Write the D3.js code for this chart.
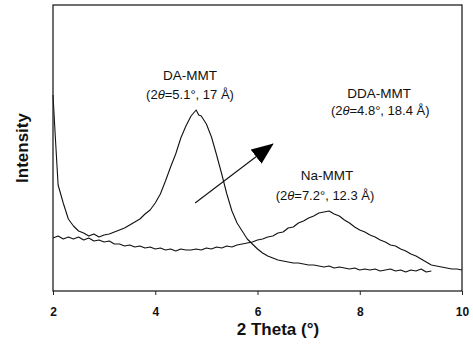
<!DOCTYPE html>
<html lang="en">
<head>
  <meta charset="utf-8" />
  <title>XRD patterns</title>
  <style>
    body { margin: 0; background: #fff; }
    svg text { fill: #111; }
    .tick line { stroke: #222; }
    path.domain { display: none; }
  </style>
</head>
<body>
  <div id="graphic"></div>
  <script src="https://cdn.jsdelivr.net/npm/d3@7"></script>
  <script>
    // 2 theta (deg) and intensity (a.u.)
    var thetaA = [2.0, 2.05, 2.1, 2.2, 2.3, 2.4, 2.5, 2.6, 2.7, 2.8, 2.9, 3.0, 3.1, 3.2, 3.3, 3.4, 3.5, 3.6, 3.7, 3.8, 3.9,
      4.0, 4.1, 4.2, 4.3, 4.4, 4.5, 4.6, 4.7, 4.8, 4.85, 4.9, 5.0, 5.1, 5.2, 5.3, 5.4, 5.5, 5.6, 5.7, 5.8, 5.9,
      6.0, 6.1, 6.2, 6.3, 6.4, 6.5, 6.6, 6.7, 6.8, 6.9, 7.0, 7.1, 7.2, 7.3, 7.4, 7.5, 7.6, 7.7, 7.8, 7.9,
      8.0, 8.1, 8.2, 8.3, 8.4, 8.5, 8.6, 8.7, 8.8, 8.9, 9.0, 9.1, 9.2, 9.3, 9.4];
    var intensityA = [196, 150, 106, 88, 72, 65, 60, 58, 55, 57, 54, 56, 57, 59, 61, 63, 66, 69, 72, 77, 81,
      88, 97, 110, 124, 137, 153, 165, 175, 181, 176, 175, 167, 154, 136, 117, 97, 80, 68, 60, 52, 47,
      42, 38, 35, 33, 31, 30, 29, 28, 28, 27, 26, 26, 25, 24, 25, 23, 24, 23, 22, 23,
      21, 22, 21, 22, 20, 21, 22, 20, 21, 19, 21, 20, 22, 19, 20];

    var thetaB = [2.0, 2.1, 2.2, 2.3, 2.4, 2.5, 2.6, 2.7, 2.8, 2.9, 3.0, 3.1, 3.2, 3.3, 3.4, 3.5, 3.6, 3.7, 3.8, 3.9,
      4.0, 4.1, 4.2, 4.3, 4.4, 4.5, 4.6, 4.7, 4.8, 4.9, 5.0, 5.1, 5.2, 5.3, 5.4, 5.5, 5.6, 5.7, 5.8, 5.9,
      6.0, 6.1, 6.2, 6.3, 6.4, 6.5, 6.6, 6.7, 6.8, 6.9, 7.0, 7.1, 7.2, 7.3, 7.4, 7.5, 7.6, 7.7, 7.8, 7.9,
      8.0, 8.1, 8.2, 8.3, 8.4, 8.5, 8.6, 8.7, 8.8, 8.9, 9.0, 9.1, 9.2, 9.3, 9.4, 9.5, 9.6, 9.7, 9.8, 9.9, 10.0];
    var intensityB = [53, 55, 52, 54, 52, 54, 51, 53, 50, 51, 49, 50, 47, 47, 45, 46, 44, 45, 43, 44,
      42, 43, 41, 42, 40, 42, 41, 41, 42, 41, 43, 42, 44, 43, 45, 44, 46, 47, 48, 49,
      51, 52, 54, 55, 58, 59, 63, 64, 68, 70, 73, 75, 78, 79, 80, 77, 75, 71, 68, 64,
      61, 59, 56, 54, 51, 49, 46, 45, 42, 40, 37, 35, 32, 29, 26, 25, 24, 23, 22, 22, 21];

    var xTicks = [2, 4, 6, 8, 10];

    // annotations: [2theta, intensity] anchors
    var labels = [
      { name: "DA-MMT", peak: "5.1°", d: "17 Å", at: [4.68, 211], at2: [4.68, 192] },
      { name: "DDA-MMT", peak: "4.8°", d: "18.4 Å", at: [8.38, 193], at2: [8.40, 176] },
      { name: "Na-MMT", peak: "7.2°", d: "12.3 Å", at: [7.36, 111], at2: [7.32, 91] }
    ];
    var arrowFrom = [4.78, 88], arrowTo = [6.30, 147];

    var width = 473, height = 348;
    var margin = { top: 5, right: 11, bottom: 57, left: 53 };
    var w = width - margin.left - margin.right;
    var h = height - margin.top - margin.bottom;

    var svg = d3.select("#graphic").append("svg")
      .attr("width", width).attr("height", height);

    svg.append("defs").append("marker")
      .attr("id", "head")
      .attr("markerUnits", "userSpaceOnUse")
      .attr("viewBox", "0 0 22 18")
      .attr("refX", 21).attr("refY", 9)
      .attr("markerWidth", 22).attr("markerHeight", 18)
      .attr("orient", "auto")
      .append("path").attr("d", "M0,0 L22,9 L0,18 Z").attr("fill", "#000");

    var g = svg.append("g").attr("transform", "translate(" + margin.left + "," + margin.top + ")");

    var x = d3.scaleLinear().domain([2, 10]).range([0, w]);
    var y = d3.scaleLinear().domain([0, 286]).range([h, 0]);

    var line = d3.line().x(function(d) { return x(d[0]); }).y(function(d) { return y(d[1]); });

    var serA = thetaA.map(function(t, i) { return [t, intensityA[i]]; });
    var serB = thetaB.map(function(t, i) { return [t, intensityB[i]]; });

    [serA, serB].forEach(function(s) {
      g.append("path").datum(s)
        .attr("d", line)
        .attr("fill", "none")
        .attr("stroke", "#111")
        .attr("stroke-width", 1.1)
        .attr("stroke-linejoin", "round");
    });

    // frame
    g.append("rect").attr("width", w).attr("height", h)
      .attr("fill", "none").attr("stroke", "#222").attr("stroke-width", 1.3);

    var xAxis = d3.axisBottom(x).tickValues(xTicks).tickSize(4).tickPadding(12).tickFormat(d3.format("d"));
    g.append("g").attr("transform", "translate(0," + h + ")").call(xAxis)
      .selectAll("text")
      .attr("font-family", "Liberation Sans, Arial, sans-serif")
      .attr("font-size", 12).attr("font-weight", 700).attr("fill", "#111");

    // axis titles
    svg.append("text")
      .attr("x", 278).attr("y", 335)
      .attr("text-anchor", "middle")
      .attr("font-family", "Liberation Sans, Arial, sans-serif")
      .attr("font-size", 17).attr("font-weight", 700)
      .text("2 Theta (°)");

    svg.append("text")
      .attr("transform", "translate(28,148) rotate(-90)")
      .attr("text-anchor", "middle")
      .attr("font-family", "Liberation Sans, Arial, sans-serif")
      .attr("font-size", 17).attr("font-weight", 700)
      .text("Intensity");

    // annotations
    labels.forEach(function(l) {
      g.append("text")
        .attr("x", x(l.at[0])).attr("y", y(l.at[1]))
        .attr("text-anchor", "middle")
        .attr("font-family", "Liberation Sans, Arial, sans-serif")
        .attr("font-size", 13.5)
        .text(l.name);
      var t = g.append("text")
        .attr("x", x(l.at2[0])).attr("y", y(l.at2[1]))
        .attr("text-anchor", "middle")
        .attr("font-family", "Liberation Sans, Arial, sans-serif")
        .attr("font-size", 13);
      t.append("tspan").text("(2");
      t.append("tspan").attr("font-style", "italic").text("θ");
      t.append("tspan").text("=" + l.peak + ",  " + l.d + ")");
    });

    g.append("line")
      .attr("x1", x(arrowFrom[0])).attr("y1", y(arrowFrom[1]))
      .attr("x2", x(arrowTo[0])).attr("y2", y(arrowTo[1]))
      .attr("stroke", "#111").attr("stroke-width", 1.1)
      .attr("marker-end", "url(#head)");
  </script>
</body>
</html>
